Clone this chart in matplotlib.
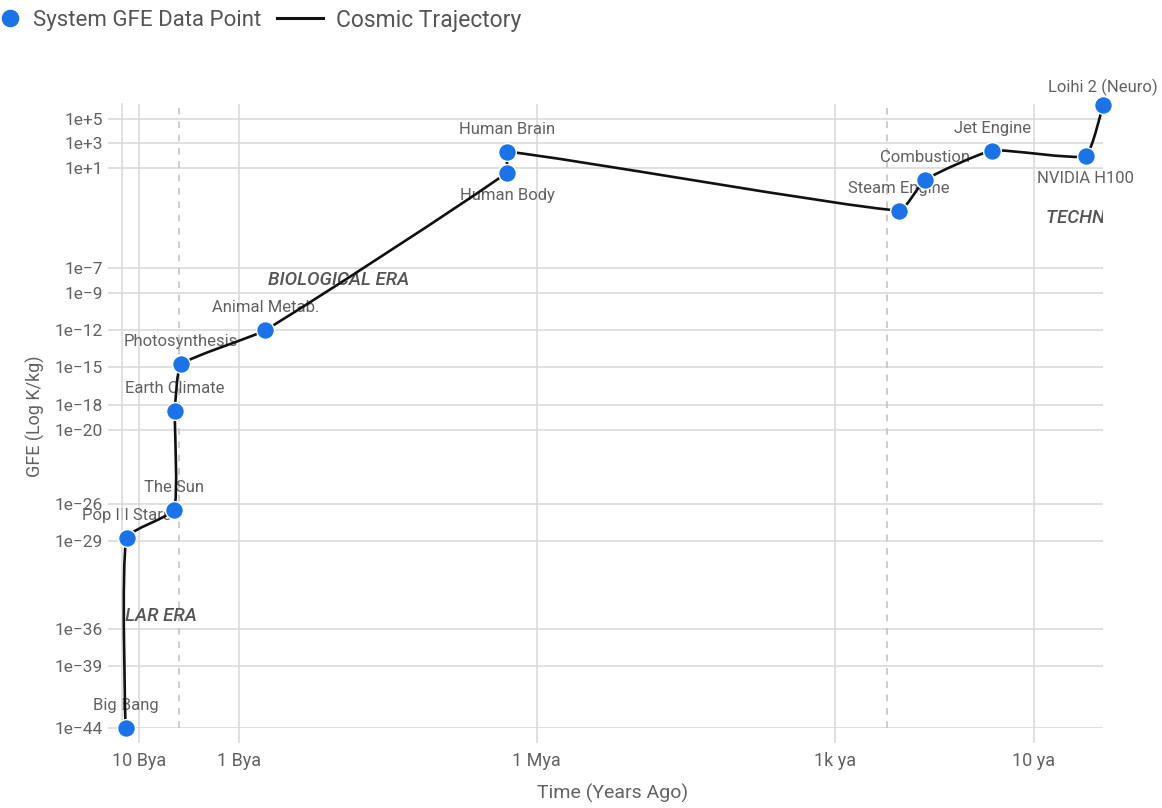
import numpy as np
import matplotlib
matplotlib.use("Agg")
import matplotlib.pyplot as plt
from matplotlib.path import Path
from matplotlib.patches import PathPatch
from matplotlib.lines import Line2D

plt.rcParams['font.family'] = ['Roboto', 'DejaVu Sans']

# systems along the cosmic timeline
names = ["Big Bang", "Pop III Stars", "The Sun", "Earth Climate", "Photosynthesis",
         "Animal Metab.", "Human Body", "Human Brain", "Steam Engine", "Combustion",
         "Jet Engine", "NVIDIA H100", "Loihi 2 (Neuro)"]
years_ago = [13.8e9, 13.5e9, 4.5e9, 4.4e9, 3.8e9, 5.4e8, 2e6, 2e6, 225, 124, 26, 3, 2]
gfe = [1e-44, 2e-29, 3.6e-27, 3e-19, 1.7e-15, 1e-12, 4.6, 220, 4e-3, 1.2, 270, 100, 1.3e6]
label_side = ["above", "above", "above", "above", "above", "above", "below", "above",
              "above", "above", "above", "below", "top"]

ytick_vals = [1e-44, 1e-39, 1e-36, 1e-29, 1e-26, 1e-20, 1e-18, 1e-15, 1e-12, 1e-9, 1e-7,
              1e1, 1e3, 1e5]
ytick_text = ["1e\u221244", "1e\u221239", "1e\u221236", "1e\u221229", "1e\u221226",
              "1e\u221220", "1e\u221218", "1e\u221215", "1e\u221212", "1e\u22129",
              "1e\u22127", "1e+1", "1e+3", "1e+5"]
xtick_vals = [1e10, 1e9, 1e6, 1e3, 1e1]
xtick_text = ["10 Bya", "1 Bya", "1 Mya", "1k ya", "10 ya"]

era_names = ["STELLAR ERA", "BIOLOGICAL ERA", "TECHNOLOGICAL ERA"]
era_x = [1e10, 1e8, 0.9]
era_y = [1e-35, 1e-8, 1e-3]
era_bounds = [4e9, 300]

BLUE = "#1a73e8"
GRID = "#dadada"
TXT = "#616161"


def spline_path(ax, xs, ys, tension=0.15):
    # cardinal-style bezier smoothing, control points worked out in screen pixels
    to_px = ax.transData
    pts = to_px.transform(np.column_stack([xs, ys]))
    n = len(pts)
    c_in = pts.copy()
    c_out = pts.copy()
    for i in range(1, n - 1):
        prev, cur, nxt = pts[i - 1], pts[i], pts[i + 1]
        d01 = np.hypot(*(cur - prev))
        d12 = np.hypot(*(nxt - cur))
        tot = d01 + d12
        if tot == 0:
            continue
        fa = tension * d01 / tot
        fb = tension * d12 / tot
        c_in[i] = cur - fa * (nxt - prev)
        c_out[i] = cur + fb * (nxt - prev)
    verts = [pts[0]]
    codes = [Path.MOVETO]
    for i in range(n - 1):
        verts += [c_out[i], c_in[i + 1], pts[i + 1]]
        codes += [Path.CURVE4] * 3
    return Path(np.array(verts), codes)


fig = plt.figure(figsize=(11.62, 8.08), dpi=100)
ax = fig.add_axes([122 / 1162, 1 - 728 / 808, 981 / 1162, 624 / 808])
ax.set_xscale('log')
ax.set_yscale('log')
ax.set_xlim(1.5e10, 2)
ax.set_ylim(1e-44, 1.5e6)

ax.set_yticks(ytick_vals)
ax.set_yticklabels(ytick_text)
ax.set_xticks(xtick_vals)
ax.set_xticklabels(xtick_text)
ax.minorticks_off()
ax.tick_params(axis='both', colors=GRID, labelcolor=TXT, labelsize=12.5,
               length=10, width=1.2)
ax.tick_params(axis='x', length=11, pad=6, labelsize=13)
ax.grid(True, color=GRID, linewidth=1.2)
ax.set_axisbelow(True)
for side in ['top', 'right', 'bottom']:
    ax.spines[side].set_visible(False)
ax.spines['left'].set_color(GRID)
ax.spines['left'].set_linewidth(1.2)

for xb in era_bounds:
    ax.axvline(xb, color="#c4c4c4", linestyle=(0, (4, 4)), linewidth=1.2, zorder=1)

for name, ex, ey in zip(era_names, era_x, era_y):
    ax.text(ex, ey, name, ha='center', va='center', fontsize=13.5, fontweight='medium',
            fontstyle='italic', color="#555555", clip_on=True, zorder=2)

for name, xv, yv, side in zip(names, years_ago, gfe, label_side):
    dy = {"above": 18, "below": -27, "top": 13}[side]
    ax.annotate(name, (xv, yv), xytext=(0, dy * 0.72), textcoords='offset points',
                ha='center', va='baseline', fontsize=12, color=TXT, zorder=2,
                annotation_clip=False)

# trajectory drawn in pixel space (axes limits are fixed above)
fig.canvas.draw()
ax.add_patch(PathPatch(spline_path(ax, years_ago, gfe), fill=False, edgecolor='#111111',
                       linewidth=1.9, zorder=3, clip_on=False, transform=None))
ax.plot(years_ago, gfe, linestyle='none', marker='o', markersize=12.8,
        markerfacecolor=BLUE, markeredgecolor='white', markeredgewidth=1.0,
        zorder=4, clip_on=False)

ax.set_xlabel("Time (Years Ago)", fontsize=14, color=TXT)
ax.xaxis.set_label_coords(0.5, -0.089)
ax.set_ylabel("GFE (Log K/kg)", fontsize=13, color=TXT)
ax.yaxis.set_label_coords(-0.078, 0.5)

# legend row across the top
W, H = 1162, 808
fig.add_artist(Line2D([10 / W], [1 - 18 / H], linestyle='none', marker='o', markersize=13.5,
                      markerfacecolor=BLUE, markeredgecolor='white', markeredgewidth=0.8,
                      transform=fig.transFigure))
fig.text(33 / W, 1 - 18 / H, "System GFE Data Point", ha='left', va='center_baseline',
         fontsize=16, color="#555555")
fig.add_artist(Line2D([277 / W, 323 / W], [1 - 18 / H, 1 - 18 / H], color='#111111',
                      linewidth=2.2, transform=fig.transFigure))
fig.text(336 / W, 1 - 18 / H, "Cosmic Trajectory", ha='left', va='center_baseline',
         fontsize=16.5, color="#555555")

fig.savefig("out.png", dpi=100)
